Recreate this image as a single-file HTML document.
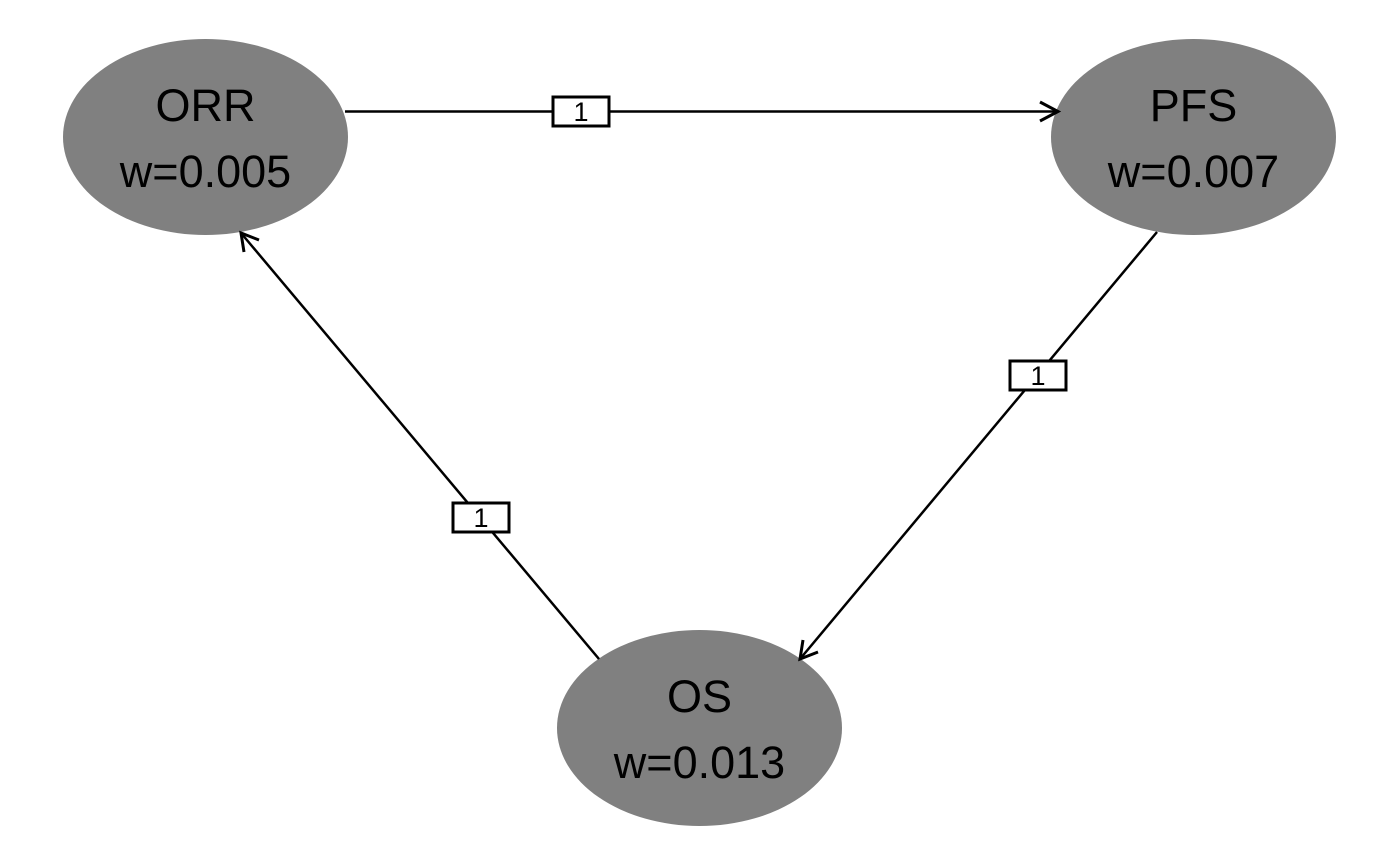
<!DOCTYPE html>
<html><head><style>html,body{margin:0;padding:0;background:#fff;}svg{display:block}</style></head>
<body>
<svg width="1400" height="866" viewBox="0 0 1400 866" xmlns="http://www.w3.org/2000/svg">
<g fill="#808080">
<ellipse cx="205.5" cy="137" rx="142.5" ry="98"/>
<ellipse cx="1193.5" cy="137" rx="142.5" ry="98"/>
<ellipse cx="699.5" cy="728" rx="142.5" ry="98"/>
</g>
<g stroke="#000" stroke-width="2.5" fill="none">
<line x1="345" y1="111.5" x2="1057" y2="111.5"/>
<polyline points="1040,102 1058,111.5 1040,121" stroke-width="3"/>
<line x1="1157" y1="232" x2="800" y2="659"/>
<polyline points="803,640 800,659 818,652" stroke-width="3"/>
<line x1="599" y1="659" x2="241" y2="233"/>
<polyline points="244,252 241,233 259,240" stroke-width="3"/>
</g>
<g stroke="#000" stroke-width="3" fill="#fff">
<rect x="553" y="97" width="56" height="29"/>
<rect x="1010" y="361" width="56" height="29"/>
<rect x="453" y="503" width="56" height="29"/>
</g>
<g font-family="'Liberation Sans', sans-serif" font-size="27" text-anchor="middle" fill="#000">
<text x="581" y="121">1</text>
<text x="1038" y="385">1</text>
<text x="481" y="527">1</text>
</g>
<g font-family="'Liberation Sans', sans-serif" font-size="45" text-anchor="middle" fill="#000">
<text x="205.5" y="121">ORR</text>
<text x="205.5" y="187">w=0.005</text>
<text x="1193.5" y="121">PFS</text>
<text x="1193.5" y="187">w=0.007</text>
<text x="699.5" y="712">OS</text>
<text x="699.5" y="778">w=0.013</text>
</g>
</svg>
</body></html>
